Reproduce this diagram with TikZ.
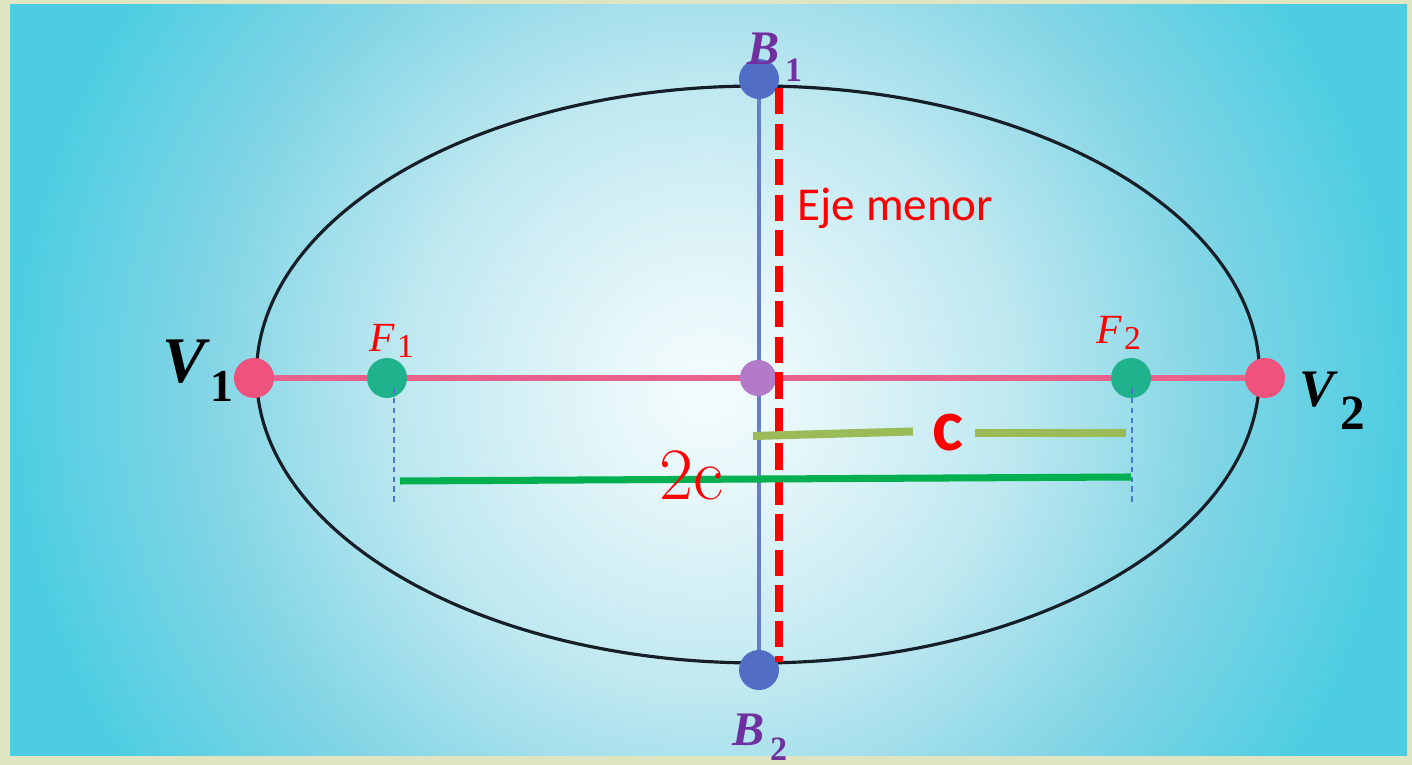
\documentclass[tikz,border=0pt]{standalone}
\usepackage{amsmath,amssymb}
\usepackage{bm}
\usepackage{fontspec}
\newfontfamily\calfont{Carlito}
\newfontfamily\tnrfont{Liberation Serif}
\usetikzlibrary{calc,positioning}

\definecolor{framecol}{RGB}{222,229,192}
\definecolor{skyA}{RGB}{246,252,253}
\definecolor{skyB}{RGB}{228,246,249}
\definecolor{skyC}{RGB}{190,232,240}
\definecolor{skyD}{RGB}{130,213,229}
\definecolor{skyE}{RGB}{76,205,226}
\definecolor{vertexcol}{RGB}{240,82,126}
\definecolor{axiscol}{RGB}{232,98,140}
\definecolor{focuscol}{RGB}{32,178,140}
\definecolor{minorcol}{RGB}{82,110,196}
\definecolor{minorline}{RGB}{102,126,200}
\definecolor{centercol}{RGB}{178,122,200}
\definecolor{labelpurple}{RGB}{112,48,160}
\definecolor{olivecol}{RGB}{155,187,89}
\definecolor{greencol}{RGB}{0,176,80}
\definecolor{guidecol}{RGB}{74,120,204}
\definecolor{curvecol}{RGB}{22,30,40}

\pgfdeclareradialshading{skyglow}{\pgfpoint{0bp}{0bp}}{color(0bp)=(skyA); color(4bp)=(skyB); color(11bp)=(skyC); color(18bp)=(skyD); color(25bp)=(skyE); color(50bp)=(skyE)}

\begin{document}
\begin{tikzpicture}[x=0.01cm,y=-0.01cm,
    dot/.style={shape=circle,minimum size=0.4cm,inner sep=0,line width=0mm},
    lbl/.style={anchor=base west,inner sep=0}]
            % Frame and background glow
            \useasboundingbox (0,0) rectangle (1412,765);
            \fill[framecol] (0,0) rectangle (1412,765);
            \begin{scope}
              \clip (10,5) rectangle (1412,756);
              \shade[shading=skyglow] (7,-310) rectangle (1407,1090);
            \end{scope}
            % Draw the ellipse
            \draw[curvecol,line width=0.9pt] (758,374.5) ellipse [x radius=501.5, y radius=288.5];
            % Points of the ellipse
            \node[dot,fill=vertexcol] (V1) at (254,378) {};
            \node[dot,fill=vertexcol] (V2) at (1265,378) {};
            \node[dot,fill=focuscol] (F1) at (387,378) {};
            \node[dot,fill=focuscol] (F2) at (1131,378) {};
            \node[dot,fill=minorcol] (B1) at (759,79) {};
            \node[dot,fill=minorcol] (B2) at (759,670) {};
            % Major and minor axis
            \draw[axiscol,line width=1.7pt] (V1) -- (F1) -- (F2) -- (V2);
            \draw[minorline,line width=1.4pt] (B1) -- (B2);
            \node[dot,minimum size=0.36cm,fill=centercol] (O) at (758,378) {};
            % Eje menor
            \coordinate (redtop) at (779,88);
            \coordinate (redbot) at (779,662);
            \draw[red,line width=2.3pt,dash pattern=on 7.5pt off 2.6pt] (redtop) -- (redbot);
            \node[lbl,text=red,font=\calfont\fontsize{13.4}{16}\selectfont] (ejelbl) at (797,221) {Eje menor};
            % Guides below the foci
            \coordinate (F1low) at (394,502);
            \coordinate (F2low) at (1132,505);
            \draw[guidecol,line width=0.35pt,dash pattern=on 1.6pt off 1.2pt] (F1) ++(7,10) -- (F1low);
            \draw[guidecol,line width=0.35pt,dash pattern=on 1.6pt off 1.2pt] (F2) ++(1,10) -- (F2low);
            % 2c
            \coordinate (twoA) at (400,481);
            \coordinate (twoB) at (1131,477);
            \draw[greencol,line width=2pt] (twoA) -- (twoB);
            \node[lbl,text=red,font=\rmfamily\fontsize{21}{23}\selectfont] (twoclbl) at (659,500) {2c};
            % c
            \node[text=red,font=\calfont\bfseries\fontsize{21}{24}\selectfont,inner sep=0] (clbl) at (948,433) {c};
            \coordinate (cA) at (753,436);
            \coordinate (cB) at (913,431.5);
            \coordinate (cC) at (975,433);
            \coordinate (cD) at (1126,433);
            \draw[olivecol,line width=2.3pt] (cA) -- (cB);
            \draw[olivecol,line width=2.3pt] (cC) -- (cD);
            % Label the points
            \node[lbl,font=\tnrfont\bfseries\fontsize{18.5}{20}\selectfont] (V1lbl) at (162,383) {\textit{V}\raisebox{-5.4pt}{\fontsize{13}{15}\selectfont 1}};
            \node[lbl,font=\tnrfont\bfseries\fontsize{15}{16}\selectfont] (V2lbl) at (1299,407) {\textit{V}\kern0.5pt\raisebox{-6.5pt}{\fontsize{14}{16}\selectfont 2}};
            \node[lbl,text=labelpurple,font=\tnrfont\bfseries\fontsize{13.7}{15}\selectfont] (B1lbl) at (747,65) {\textit{B}\kern1.5pt\raisebox{-4.8pt}{\fontsize{9.7}{11}\selectfont 1}};
            \node[lbl,text=labelpurple,font=\tnrfont\bfseries\fontsize{13.7}{15}\selectfont] (B2lbl) at (732,746) {\textit{B}\kern1.5pt\raisebox{-4.2pt}{\fontsize{9.7}{11}\selectfont 2}};
            \node[lbl,text=red,font=\tnrfont\fontsize{11.8}{13}\selectfont] (F1lbl) at (369,352) {\textit{F}\kern0.5pt\raisebox{-1.7pt}{\fontsize{9.5}{11}\selectfont 1}};
            \node[lbl,text=red,font=\tnrfont\fontsize{11.8}{13}\selectfont] (F2lbl) at (1096,344) {\textit{F}\kern0.5pt\raisebox{-1.5pt}{\fontsize{9.5}{11}\selectfont 2}};
          \end{tikzpicture}
\end{document}
